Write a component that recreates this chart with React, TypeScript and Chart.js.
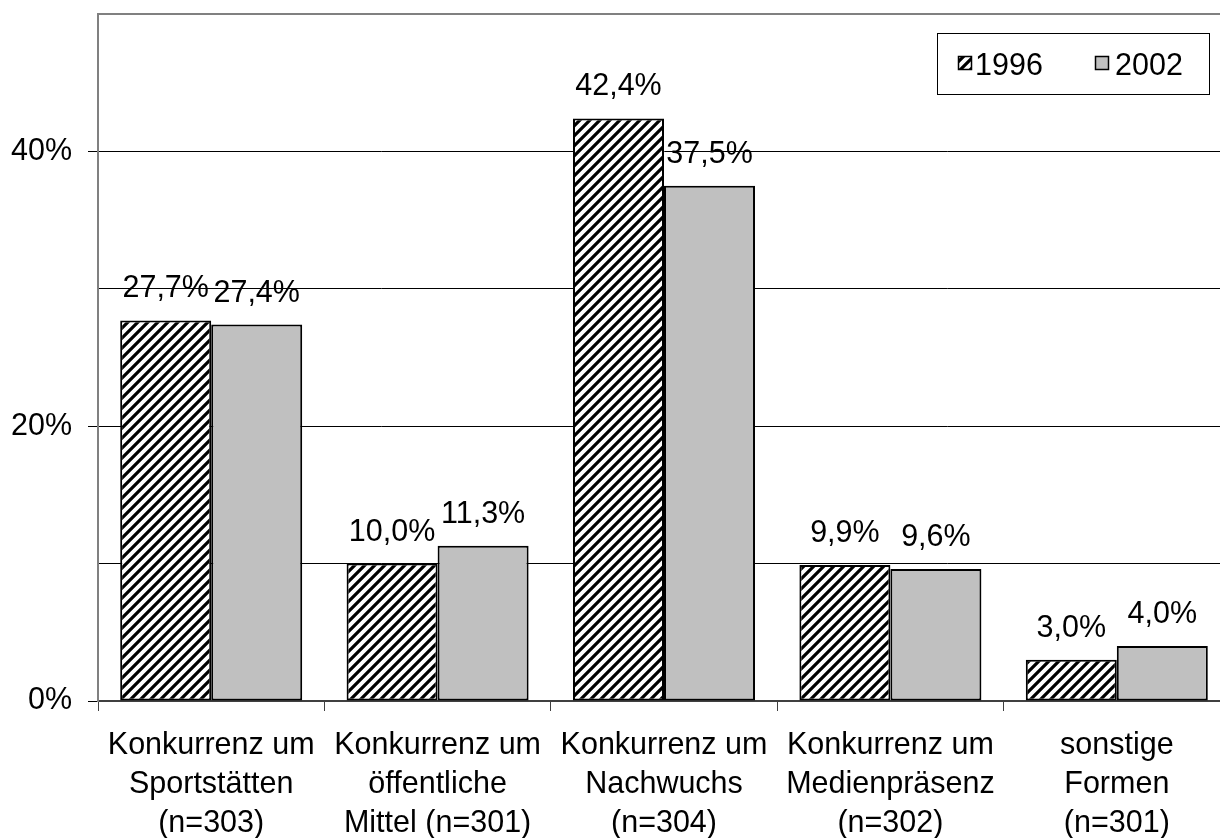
import React, { useEffect, useRef } from "react";
import { Chart, registerables } from "chart.js";

Chart.register(...registerables);

const categories: string[][] = [
  ["Konkurrenz um", "Sportstätten", "(n=303)"],
  ["Konkurrenz um", "öffentliche", "Mittel (n=301)"],
  ["Konkurrenz um", "Nachwuchs", "(n=304)"],
  ["Konkurrenz um", "Medienpräsenz", "(n=302)"],
  ["sonstige", "Formen", "(n=301)"],
];
const seriesLabels = ["1996", "2002"];
const values1996 = [27.7, 10.0, 42.4, 9.9, 3.0];
const values2002 = [27.4, 11.3, 37.5, 9.6, 4.0];
const yTickLabelValues = [0, 20, 40];

const FONT = "'Liberation Sans', Arial, sans-serif";
const FS = 30.5;

function fmt(v: number) {
  return v.toFixed(1).replace(".", ",") + "%";
}

function makeHatch(): CanvasPattern | string {
  const pc = document.createElement("canvas");
  pc.width = 10;
  pc.height = 10;
  const c = pc.getContext("2d");
  if (!c) return "#888";
  c.fillStyle = "#fff";
  c.fillRect(0, 0, 10, 10);
  c.strokeStyle = "#000";
  c.lineWidth = 3.2;
  c.lineCap = "square";
  const segs = [
    [-5, 5, 5, -5],
    [0, 10, 10, 0],
    [5, 15, 15, 5],
  ];
  for (const s of segs) {
    c.beginPath();
    c.moveTo(s[0], s[1]);
    c.lineTo(s[2], s[3]);
    c.stroke();
  }
  const p = c.createPattern(pc, "repeat");
  return p || "#888";
}

const valueLabelPlugin = {
  id: "valueLabels",
  afterDatasetsDraw(chart: any) {
    const ctx = chart.ctx;
    ctx.save();
    ctx.font = `${FS}px ${FONT}`;
    ctx.fillStyle = "#000";
    ctx.textAlign = "center";
    ctx.textBaseline = "alphabetic";
    chart.data.datasets.forEach((ds: any, di: number) => {
      const meta = chart.getDatasetMeta(di);
      meta.data.forEach((el: any, i: number) => {
        ctx.fillText(fmt(ds.data[i]), el.x, el.y - 23);
      });
    });
    ctx.restore();
  },
};

const boxLegendPlugin = {
  id: "boxLegend",
  afterDraw(chart: any) {
    const ctx = chart.ctx;
    ctx.save();
    ctx.fillStyle = "#fff";
    ctx.fillRect(937, 33, 272, 61);
    ctx.strokeStyle = "#000";
    ctx.lineWidth = 1;
    ctx.strokeRect(937.5, 33.5, 272, 61);
    const items = [
      { mx: 958, tx: 975 },
      { mx: 1095, tx: 1115 },
    ];
    ctx.font = `${FS}px ${FONT}`;
    ctx.textAlign = "left";
    ctx.textBaseline = "alphabetic";
    chart.data.datasets.forEach((ds: any, i: number) => {
      const it = items[i];
      ctx.fillStyle = ds.backgroundColor;
      ctx.fillRect(it.mx, 56, 14, 14);
      ctx.strokeStyle = "#000";
      ctx.lineWidth = 1.5;
      ctx.strokeRect(it.mx + 0.5, 56.5, 13, 13);
      ctx.fillStyle = "#000";
      ctx.fillText(ds.label, it.tx, 75);
    });
    ctx.restore();
  },
};

export default function App() {
  const ref = useRef<HTMLCanvasElement>(null);

  useEffect(() => {
    if (!ref.current) return;
    const hatch = makeHatch();
    const chart = new Chart(ref.current, {
      type: "bar",
      data: {
        labels: categories,
        datasets: [
          {
            label: seriesLabels[0],
            data: values1996,
            backgroundColor: hatch as any,
            borderColor: "#000",
            borderWidth: 2,
            borderSkipped: false,
            categoryPercentage: 0.804,
            barPercentage: 1.0,
          },
          {
            label: seriesLabels[1],
            data: values2002,
            backgroundColor: "#c0c0c0",
            borderColor: "#000",
            borderWidth: 2,
            borderSkipped: false,
            categoryPercentage: 0.804,
            barPercentage: 1.0,
          },
        ],
      },
      options: {
        responsive: false,
        animation: false,
        devicePixelRatio: 1,
        layout: { padding: { top: 14, right: 2, left: 0, bottom: 0 } },
        plugins: {
          legend: { display: false },
          tooltip: { enabled: false },
        },
        scales: {
          x: {
            offset: true,
            grid: {
              offset: true,
              drawOnChartArea: false,
              drawTicks: true,
              tickLength: 10,
              tickColor: "#404040",
              tickWidth: 1,
            },
            border: { display: true, color: "#404040", width: 2 },
            ticks: {
              color: "#000",
              padding: 15,
              maxRotation: 0,
              autoSkip: false,
              font: { family: FONT, size: FS, lineHeight: 1.28 },
            },
            afterFit(scale: any) {
              scale.height = 137;
              scale.paddingLeft = 0;
              scale.paddingRight = 0;
            },
          },
          y: {
            min: 0,
            max: 50,
            ticks: {
              stepSize: 10,
              color: "#000",
              padding: 16,
              font: { family: FONT, size: FS },
              callback: (v: any) =>
                yTickLabelValues.includes(Number(v)) ? `${v}%` : "",
            },
            grid: {
              color: (c: any) => (c.tick && c.tick.value === 50 ? "#808080" : "#000"),
              lineWidth: (c: any) => (c.tick && c.tick.value === 50 ? 2 : 1),
              tickColor: (c: any) =>
                c.tick && yTickLabelValues.includes(c.tick.value) ? "#000" : "rgba(0,0,0,0)",
              tickLength: 10,
              drawTicks: true,
            },
            border: { display: true, color: "#808080", width: 2 },
            afterFit(scale: any) {
              scale.width = 98;
              scale.paddingTop = 0;
              scale.paddingBottom = 0;
            },
          },
        },
      },
      plugins: [valueLabelPlugin, boxLegendPlugin],
    });
    return () => chart.destroy();
  }, []);

  return (
    <div
      style={{
        position: "absolute",
        left: 0,
        top: 0,
        width: 1220,
        height: 838,
        overflow: "hidden",
        background: "#fff",
      }}
    >
      <canvas ref={ref} width={1232} height={838} style={{ display: "block" }} />
    </div>
  );
}
